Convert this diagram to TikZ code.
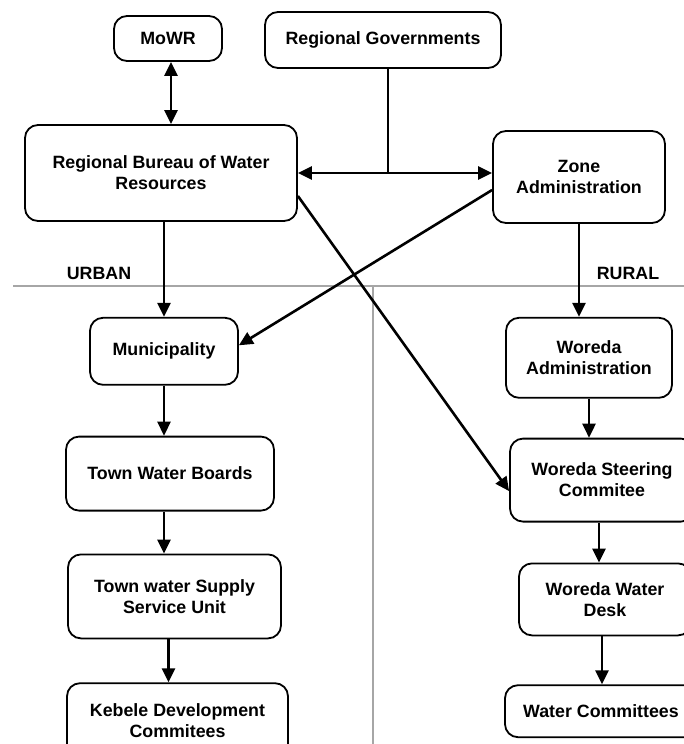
\documentclass[tikz,border=0pt]{standalone}
\usepackage{fontspec}
\setmainfont{Liberation Sans}
\usepackage{tikz}
\usetikzlibrary{arrows,arrows.meta,positioning,calc}

\begin{document}
\begin{tikzpicture}[
        x=1pt,y=-1pt,
        node distance=40pt,
        box/.style={rectangle,draw,line width=1.8pt,rounded corners=13pt,inner sep=2pt,align=center,font=\fontsize{17.8}{21}\selectfont\bfseries},
        arrow/.style={-{Triangle[length=14pt,width=13pt]},line width=2.6pt},
        dblarrow/.style={{Triangle[length=14pt,width=13pt]}-{Triangle[length=14pt,width=13pt]},line width=2.6pt},
        divider/.style={draw=black!35,line width=2.2pt},
        sidelabel/.style={font=\fontsize{17.8}{21}\selectfont\bfseries},
    ]
    \useasboundingbox (0,0) rectangle (684,744);

    % === URBAN / RURAL split ===
    \coordinate (divleft) at (13,286);
    \coordinate (divright) at (684,286);
    \coordinate (divtop) at (373,286);
    \coordinate (divbottom) at (373,744);
    \draw[divider] (divleft) -- (divright);
    \draw[divider] (divtop) -- (divbottom);
    \node[sidelabel] (urban) at (99,273) {URBAN};
    \node[sidelabel] (rural) at (628,273) {RURAL};

    % === TOP: ministry and region ===
    \node[box,minimum width=108pt,minimum height=45pt] (mowr) at (168,38.5) {MoWR};
    \node[box,minimum width=236pt,minimum height=56pt] (reggov) at (383,40) {Regional Governments};
    \node[box,minimum width=272pt,minimum height=96pt] (bureau) at (161,173) {Regional Bureau of Water\\Resources};
    \node[box,minimum width=172pt,minimum height=92pt] (zone) at (579,177) {Zone\\Administration};

    \draw[dblarrow] ([xshift=3pt]mowr.south) -- ([xshift=3pt]mowr.south |- bureau.north);
    \draw[dblarrow] (bureau.east) -- (bureau.east -| zone.west);
    \draw[line width=2.6pt] ([xshift=5pt]reggov.south) -- ([xshift=5pt]reggov.south |- bureau.east);

    % === LEFT: urban chain ===
    \node[box,minimum width=148pt,minimum height=67pt,below=95pt of bureau,xshift=3pt] (muni) {Municipality};
    \node[box,minimum width=208pt,minimum height=74pt,below=50pt of muni,xshift=6pt] (twb) {Town Water Boards};
    \node[box,minimum width=213pt,minimum height=84pt,below=42pt of twb,xshift=4.5pt] (supply) {Town water Supply\\Service Unit};
    \node[box,minimum width=221pt,minimum height=74pt,below=43pt of supply,xshift=3pt] (kebele) {Kebele Development\\Commitees};

    \draw[arrow] (bureau.south -| muni.north) -- (muni.north);
    \draw[arrow] (muni.south) -- (muni.south |- twb.north);
    \draw[arrow] (twb.south -| muni.south) -- (supply.north -| muni.south);
    \draw[arrow] ([xshift=-6pt]supply.south) -- ([xshift=-6pt]supply.south |- kebele.north);

    % === RIGHT: rural chain ===
    \node[box,minimum width=166pt,minimum height=80pt,below=93pt of zone,xshift=10pt] (admin) {Woreda\\Administration};
    \node[box,minimum width=184pt,minimum height=83pt,below=39pt of admin,xshift=13pt] (steer) {Woreda Steering\\Commitee};
    \node[box,minimum width=172pt,minimum height=72pt,below=40pt of steer,xshift=3pt] (desk) {Woreda Water\\Desk};
    \node[box,minimum width=192pt,minimum height=52pt,below=48pt of desk,xshift=-4pt] (wc) {Water Committees};

    \draw[arrow] (zone.south) -- (zone.south |- admin.north);
    \draw[arrow] (admin.south) -- (admin.south |- steer.north);
    \draw[arrow] ([xshift=-3pt]steer.south) -- ([xshift=-3pt]steer.south |- desk.north);
    \draw[arrow] ([xshift=-3pt]desk.south) -- ([xshift=-3pt]desk.south |- wc.north);

    % cross links
    \draw[arrow] ([yshift=-13pt]zone.west) -- ([yshift=6pt]muni.east);
    \draw[arrow] ([yshift=-23pt]bureau.east) -- ([yshift=-11pt]steer.west);
\end{tikzpicture}
\end{document}
